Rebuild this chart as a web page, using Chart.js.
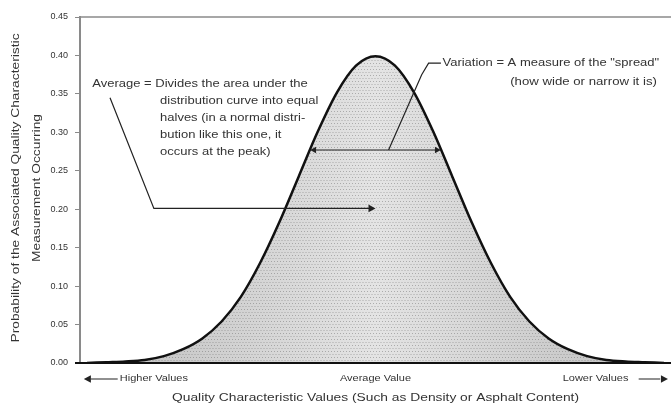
<!DOCTYPE html>
<html>
<head>
<meta charset="utf-8">
<script src="https://cdn.jsdelivr.net/npm/chart.js@4.4.0/dist/chart.umd.min.js"></script>
<style>
  html, body { margin: 0; padding: 0; background: #fff; }
  #wrap { width: 671px; height: 410px; position: relative; }
</style>
</head>
<body>
<div id="wrap"><canvas id="curve"></canvas></div>
<script>
// Standardised characteristic value (in standard deviations from the average)
var positions = [-3.75, -3.5, -3.25, -3, -2.75, -2.5, -2.25, -2, -1.75, -1.5, -1.25, -1, -0.75, -0.5, -0.25, 0,
                 0.25, 0.5, 0.75, 1, 1.25, 1.5, 1.75, 2, 2.25, 2.5, 2.75, 3, 3.25, 3.5, 3.75];
// Probability of the measurement occurring at each position
var probability = [0.000, 0.001, 0.002, 0.004, 0.009, 0.018, 0.032, 0.054, 0.086, 0.130, 0.183, 0.242, 0.301, 0.352, 0.387, 0.399,
                   0.387, 0.352, 0.301, 0.242, 0.183, 0.130, 0.086, 0.054, 0.032, 0.018, 0.009, 0.004, 0.002, 0.001, 0.000];
var yTicks = [0, 0.05, 0.10, 0.15, 0.20, 0.25, 0.30, 0.35, 0.40, 0.45];
var xLabels = ['Higher Values', 'Average Value', 'Lower Values'];
var xLabelPos = [-2.88, 0, 2.86];

var FONT = '"Liberation Sans", Arial, sans-serif';
var INK = '#333';

var points = [];
for (var i = 0; i < positions.length; i++) {
	points.push({x: positions[i], y: probability[i]});
}

// Halftone fill, lighter towards the middle of the curve
var stipple = function(context) {
	var chart = context.chart;
	if (!chart.chartArea) return '#d0d0d0';
	var w = chart.width, h = chart.height;
	var c = document.createElement('canvas');
	c.width = w; c.height = h;
	var g = c.getContext('2d');
	var mid = chart.scales.x.getPixelForValue(0);
	var grad = g.createLinearGradient(mid - 260, 0, mid + 260, 0);
	grad.addColorStop(0, '#c2c2c2');
	grad.addColorStop(0.5, '#e4e4e4');
	grad.addColorStop(1, '#c2c2c2');
	g.fillStyle = grad;
	g.fillRect(0, 0, w, h);
	g.fillStyle = 'rgba(90,90,90,0.4)';
	for (var y = 0; y < h; y += 3) {
		for (var x = (y / 3) % 2 ? 1 : 2.5; x < w; x += 3) {
			g.fillRect(x, y, 1, 1);
		}
	}
	return g.createPattern(c, 'no-repeat');
};

var arrowHead = function(ctx, x, y, dir, size) {
	ctx.beginPath();
	ctx.moveTo(x, y);
	ctx.lineTo(x - dir * size, y - size * 0.55);
	ctx.lineTo(x - dir * size, y + size * 0.55);
	ctx.closePath();
	ctx.fill();
};

// the lettering is set wide, so stretch it along its run
var wideText = function(ctx, text, x, y, sx) {
	ctx.save();
	ctx.translate(x, y);
	ctx.scale(sx, 1);
	ctx.fillText(text, 0, 0);
	ctx.restore();
};

var notes = {
	id: 'notes',
	afterDraw: function(chart) {
		var ctx = chart.ctx;
		var xs = chart.scales.x, ys = chart.scales.y;
		var area = chart.chartArea;
		var px = function(v) { return xs.getPixelForValue(v); };
		var py = function(v) { return ys.getPixelForValue(v); };

		ctx.save();
		// frame: grey top edge, black baseline
		ctx.strokeStyle = '#8a8a8a';
		ctx.lineWidth = 1.5;
		ctx.beginPath();
		ctx.moveTo(area.left, area.top);
		ctx.lineTo(chart.width, area.top);
		ctx.stroke();
		ctx.strokeStyle = '#111';
		ctx.lineWidth = 2;
		ctx.beginPath();
		ctx.moveTo(area.left - 5, py(0));
		ctx.lineTo(chart.width, py(0));
		ctx.stroke();

		ctx.fillStyle = INK;
		ctx.strokeStyle = '#222';
		ctx.lineWidth = 1.2;

		// Average note
		ctx.font = '10px ' + FONT;
		ctx.textBaseline = 'middle';
		ctx.textAlign = 'left';
		wideText(ctx, 'Average = Divides the area under the', px(-3.68), py(0.363), 1.3);
		var avgLines = ['distribution curve into equal', 'halves (in a normal distri-', 'bution like this one, it', 'occurs at the peak)'];
		for (var i = 0; i < avgLines.length; i++) {
			wideText(ctx, avgLines[i], px(-2.8), py(0.363) + 17 * (i + 1), 1.3);
		}
		ctx.beginPath();
		ctx.moveTo(px(-3.45), py(0.345));
		ctx.lineTo(px(-2.88), py(0.201));
		ctx.lineTo(px(0) - 6, py(0.201));
		ctx.stroke();
		ctx.fillStyle = '#222';
		arrowHead(ctx, px(0), py(0.201), 1, 7);

		// Variation note
		ctx.fillStyle = INK;
		wideText(ctx, 'Variation = A measure of the "spread"', px(0.87), py(0.39), 1.3);
		wideText(ctx, '(how wide or narrow it is)', px(1.75), py(0.365), 1.32);
		var spreadY = 0.277;
		ctx.beginPath();
		ctx.moveTo(px(0.85), py(0.39));
		ctx.lineTo(px(0.69), py(0.39));
		ctx.lineTo(px(0.6), py(0.375));
		ctx.lineTo(px(0.17), py(spreadY));
		ctx.stroke();
		ctx.beginPath();
		ctx.moveTo(px(-0.8), py(spreadY));
		ctx.lineTo(px(0.8), py(spreadY));
		ctx.stroke();
		ctx.fillStyle = '#222';
		arrowHead(ctx, px(-0.85), py(spreadY), -1, 6);
		arrowHead(ctx, px(0.85), py(spreadY), 1, 6);

		// value labels under the baseline
		ctx.fillStyle = INK;
		ctx.font = '9px ' + FONT;
		ctx.textAlign = 'center';
		var labelY = py(0) + 16;
		for (var j = 0; j < xLabels.length; j++) {
			wideText(ctx, xLabels[j], px(xLabelPos[j]), labelY, 1.22);
		}
		ctx.beginPath();
		ctx.moveTo(px(-3.35), labelY);
		ctx.lineTo(px(-3.7), labelY);
		ctx.moveTo(px(3.42), labelY);
		ctx.lineTo(px(3.7), labelY);
		ctx.stroke();
		ctx.fillStyle = '#222';
		arrowHead(ctx, px(-3.79), labelY, -1, 7);
		arrowHead(ctx, px(3.8), labelY, 1, 7);

		// axis titles
		ctx.fillStyle = INK;
		ctx.font = '10px ' + FONT;
		wideText(ctx, 'Quality Characteristic Values (Such as Density or Asphalt Content)', px(0), py(0) + 35, 1.38);
		ctx.save();
		ctx.translate(16, (area.top + area.bottom) / 2 - 2);
		ctx.rotate(-Math.PI / 2);
		wideText(ctx, 'Probability of the Associated Quality Characteristic', 0, 0, 1.38);
		wideText(ctx, 'Measurement Occurring', 0, 21, 1.38);
		ctx.restore();
		ctx.restore();
	}
};

new Chart(document.getElementById('curve'), {
	type: 'line',
	data: {
		datasets: [{
			data: points,
			borderColor: '#111',
			borderWidth: 2.5,
			backgroundColor: stipple,
			fill: 'origin',
			pointRadius: 0,
			cubicInterpolationMode: 'monotone'
		}]
	},
	options: {
		responsive: true,
		maintainAspectRatio: false,
		animation: false,
		events: [],
		layout: {padding: {left: 0, right: 0, top: 17, bottom: 47}},
		plugins: {legend: {display: false}, tooltip: {enabled: false}},
		scales: {
			x: {
				type: 'linear',
				display: false,
				min: -3.84,
				max: 3.84
			},
			y: {
				min: 0,
				max: 0.45,
				afterBuildTicks: function(scale) {
					scale.ticks = yTicks.map(function(v) { return {value: v}; });
				},
				afterFit: function(scale) { scale.width = 80; },
				border: {color: '#8a8a8a', width: 2},
				grid: {drawOnChartArea: false, tickLength: 5, color: '#8a8a8a'},
				ticks: {
					padding: 7,
					color: INK,
					font: {family: FONT, size: 9},
					callback: function(v) { return v.toFixed(2); }
				}
			}
		}
	},
	plugins: [notes]
});
</script>
</body>
</html>
